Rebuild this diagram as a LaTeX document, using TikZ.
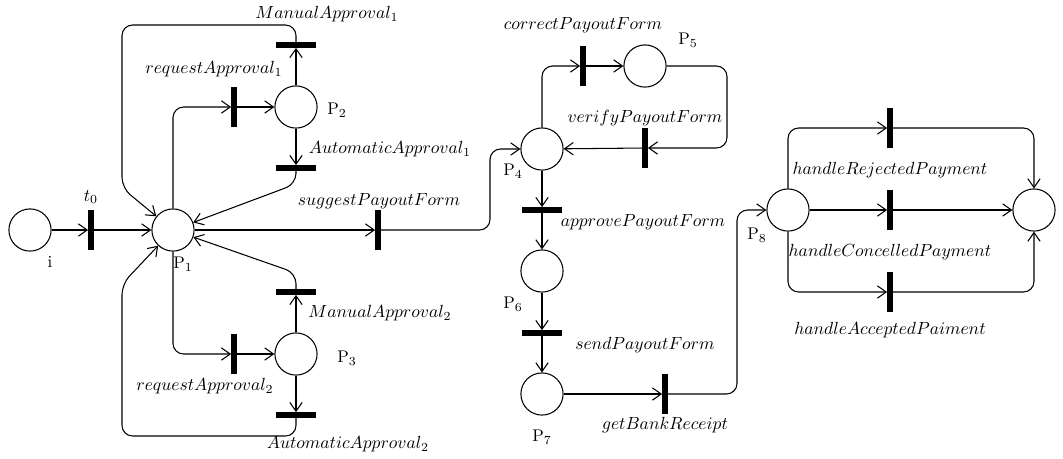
\documentclass[tikz,border=0pt]{standalone}
\usepackage{amsmath}
\usetikzlibrary{arrows.meta,positioning,calc}

\begin{document}
\begin{tikzpicture}[
  x=0.02cm, y=-0.02cm,
  font=\fontsize{9.6}{11}\selectfont,
  >={Straight Barb[length=5pt,width=7pt]},
  pl/.style={draw, circle, minimum size=24pt, inner sep=0pt, line width=0.6pt, fill=white},
  trv/.style={fill=black, minimum width=2.9pt, minimum height=23pt, inner sep=0pt},
  trh/.style={fill=black, minimum width=23pt, minimum height=2.9pt, inner sep=0pt},
  lb/.style={inner sep=1pt},
  ar/.style={->, line width=0.6pt, rounded corners=6pt}]

\useasboundingbox (0,0) rectangle (1063,458);

% ===== start / approval loop =====
\node[pl]  (pi)  at (30,230)  {};
\node[trv] (t0)  at (91,230)  {};
\node[pl]  (p1)  at (173,230) {};
\node[trv] (ra1) at (234,107) {};
\node[pl]  (p2)  at (296,107) {};
\node[trh] (ma1) at (296,45)  {};
\node[trh] (aa1) at (296,168) {};
\node[trv] (ra2) at (234,354) {};
\node[pl]  (p3)  at (296,354) {};
\node[trh] (ma2) at (296,292) {};
\node[trh] (aa2) at (296,415) {};
\node[trv] (sp)  at (378,230) {};

\node[lb] (lpi)  at (50,262)  {i};
\node[lb] (lt0)  at (91,197)  {$t_0$};
\node[lb] (lp1)  at (183,264) {P$_1$};
\node[lb] (lra1) at (214,69)  {$requestApproval_1$};
\node[lb] (lp2)  at (337,110) {P$_2$};
\node[lb] (lma1) at (327,14)  {$ManualApproval_1$};
\node[lb] (laa1) at (390,149) {$AutomaticApproval_1$};
\node[lb] (lsp)  at (379,201) {$suggestPayoutForm$};
\node[lb] (lra2) at (205,386) {$requestApproval_2$};
\node[lb] (lp3)  at (347,358) {P$_3$};
\node[lb] (lma2) at (380,313) {$ManualApproval_2$};
\node[lb] (laa2) at (348,444) {$AutomaticApproval_2$};

% ===== payout form =====
\node[pl]  (p4) at (542,149) {};
\node[trv] (cp) at (583,66)  {};
\node[pl]  (p5) at (645,66)  {};
\node[trv] (vp) at (645,148) {};
\node[trh] (ap) at (542,210) {};
\node[pl]  (p6) at (542,271) {};
\node[trh] (sf) at (542,333) {};
\node[pl]  (p7) at (542,394) {};
\node[trv] (gb) at (665,394) {};

\node[lb] (lp4) at (513,171) {P$_4$};
\node[lb] (lcp) at (583,25)  {$correctPayoutForm$};
\node[lb] (lp5) at (688,40)  {P$_5$};
\node[lb] (lvp) at (645,118) {$verifyPayoutForm$};
\node[lb] (lap) at (643,222) {$approvePayoutForm$};
\node[lb] (lp6) at (513,304) {P$_6$};
\node[lb] (lsf) at (645,345) {$sendPayoutForm$};
\node[lb] (lp7) at (542,437) {P$_7$};
\node[lb] (lgb) at (665,425) {$getBankReceipt$};

% ===== payment =====
\node[pl]  (p8) at (788,210)  {};
\node[trv] (hr) at (890,128)  {};
\node[trv] (hc) at (890,210)  {};
\node[trv] (ha) at (890,292)  {};
\node[pl]  (po) at (1034,210) {};

\node[lb] (lp8) at (757,235)  {P$_8$};
\node[lb] (lhr) at (890,170)  {$handleRejectedPayment$};
\node[lb] (lhc) at (890,252)  {$handleConcelledPayment$};
\node[lb] (lha) at (890,330)  {$handleAcceptedPaiment$};
\node[lb] (lpo) at (1068,232) {o};

% ===== bends =====
\coordinate (k1) at (122,25);
\coordinate (k2) at (122,188);
\coordinate (k3) at (296,184);
\coordinate (k4) at (296,273);
\coordinate (k5) at (122,436);
\coordinate (k6) at (122,284);
\coordinate (k7) at (490,149);
\coordinate (k8) at (727,100);
\coordinate (k9) at (737,210);

% ===== edges =====
\draw[ar] (pi) -- (t0);
\draw[ar] (t0) -- (p1);
\draw[ar] (p1) |- (ra1);
\draw[ar] (ra1) -- (p2);
\draw[ar] (p2) -- (ma1);
\draw[ar] (ma1) |- (k1) -- (k2) -- (p1);
\draw[ar] (p2) -- (aa1);
\draw[ar] (aa1) -- (k3) -- (p1);
\draw[ar] (p1) |- (ra2);
\draw[ar] (ra2) -- (p3);
\draw[ar] (p3) -- (ma2);
\draw[ar] (ma2) -- (k4) -- (p1);
\draw[ar] (p3) -- (aa2);
\draw[ar] (aa2) |- (k5) -- (k6) -- (p1);
\draw[ar] (p1) -- (sp);
\draw[ar] (sp) -| (k7) -- (p4);
\draw[ar] (p4) |- (cp);
\draw[ar] (cp) -- (p5);
\draw[ar] (p5) -| (k8) |- (vp);
\draw[ar] (vp) -- (p4);
\draw[ar] (p4) -- (ap);
\draw[ar] (ap) -- (p6);
\draw[ar] (p6) -- (sf);
\draw[ar] (sf) -- (p7);
\draw[ar] (p7) -- (gb);
\draw[ar] (gb) -| (k9) -- (p8);
\draw[ar] (p8) |- (hr);
\draw[ar] (hr) -| (po);
\draw[ar] (p8) -- (hc);
\draw[ar] (hc) -- (po);
\draw[ar] (p8) |- (ha);
\draw[ar] (ha) -| (po);

\end{tikzpicture}
\end{document}
